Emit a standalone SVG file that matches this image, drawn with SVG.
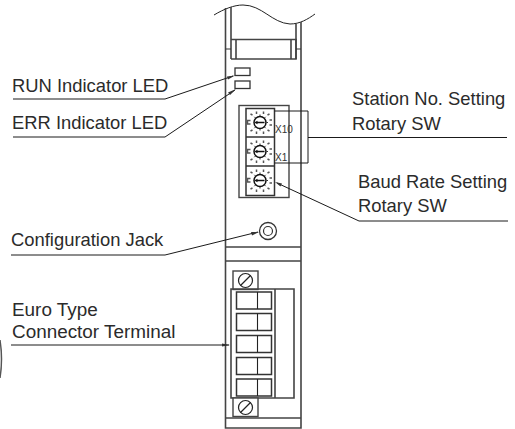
<svg xmlns="http://www.w3.org/2000/svg" width="515" height="429" viewBox="0 0 515 429">
<style>
.t{font-family:"Liberation Sans",Arial,sans-serif;font-size:18.400px;fill:#2b2b2b}
.e{font-size:18.900px}
.s{font-family:"Liberation Sans",Arial,sans-serif;font-size:10px;fill:#333}
.l{fill:none;stroke:#333;stroke-width:1.2}
.b{fill:none;stroke:#444;stroke-width:1.6}
.c{fill:none;stroke:#222;stroke-width:1}
.u{stroke:#1a1a1a;stroke-width:1;fill:none}
.a{fill:#333}
</style>
<defs>
<g id="dial">
<circle r="6" fill="none" stroke="#111" stroke-width="1.500"/>
<path d="M-4.500 0H4.500" stroke="#111" stroke-width="1.500"/>
<path d="M-5.500 0L-2.500 -1.800V1.800Z" fill="#111"/>
<g stroke="#333" stroke-width="1" fill="none">
<path d="M0 -6.500V-8M4.600 -4.600L5.700 -5.700M6.500 0H8M4.600 4.600L5.700 5.700M0 6.500V8M-4.600 4.600L-5.700 5.700M-4.600 -4.600L-5.700 -5.700"/>
</g>
<g stroke="#555" stroke-width="1.500" fill="none">
<path d="M-3.500 -11V-8.500M3.500 -11V-8.500M7.500 -7.500L9.500 -8.500M9.500 -2.500H12M9.500 2.500H12M7.500 7.500L9.500 8.500M3.500 9V11.500M-3.500 9V11.500M-7.500 7.500L-9.500 8.500M-9.500 -2H-12.500V1.500H-9.500M-7.500 -7.500L-9.500 -8.500"/>
</g>
</g>
<g id="screw">
<rect x="-12.500" y="-9.500" width="25" height="18.500" fill="#fff" stroke="#444" stroke-width="1.400"/>
<circle r="7" fill="none" stroke="#222" stroke-width="1.200"/>
<path d="M-5 5L5 -5" stroke="#222" stroke-width="1.200"/>
</g>
<g id="cell">
<rect x="0" y="0" width="35" height="17" fill="#fff" stroke="#333" stroke-width="1.500"/>
<path d="M21 0V17" stroke="#222" stroke-width="1.100"/>
</g>
</defs>

<g id="module-body">
<path class="c" d="M214 15C224 9 234 5 243 5C262 5 272 23 290 24C300 24 308 19 315 14"/>
<path class="b" d="M225.500 8V428H301V22M231 7V59M296 24V59"/>
<path class="b" d="M231 39.500H296V59H231M236 39.500V59M291 39.500V59"/>
<path class="l" d="M225.500 49H231M296 49H301"/>
<path class="b" d="M226 247H301M226 261H301M226 418H301"/>
</g>

<g id="run-led"><rect x="235" y="68" width="15" height="7.500" fill="#fff" stroke="#333" stroke-width="1.300"/></g>
<g id="err-led"><rect x="235" y="81" width="15" height="7.500" fill="#fff" stroke="#333" stroke-width="1.300"/></g>

<g id="switch-panel">
<rect x="239" y="105.500" width="50" height="92" fill="#fff" stroke="#444" stroke-width="1.400"/>
<rect x="246" y="108.500" width="28.500" height="87" fill="#fff" stroke="#333" stroke-width="1.500"/>
<path d="M246 137H274.500M246 166H274.500" stroke="#333" stroke-width="1.500"/>
<text class="s" x="275" y="132.500">X10</text>
<text class="s" x="275" y="161">X1</text>
</g>
<g id="station-switch-x10"><use href="#dial" x="260" y="122.500"/></g>
<g id="station-switch-x1"><use href="#dial" x="260" y="151.500"/></g>
<g id="baud-switch"><use href="#dial" x="260" y="180.500"/></g>

<g id="config-jack">
<circle cx="268" cy="231" r="8.500" fill="#fff" stroke="#333" stroke-width="1.300"/>
<circle cx="268" cy="231" r="4.500" fill="none" stroke="#333" stroke-width="1.200"/>
</g>

<g id="terminal">
<use href="#screw" x="245.500" y="280.500"/>
<path class="b" d="M231 289H294V398H231ZM275 289V398"/>
<use href="#cell" x="236.500" y="292"/>
<use href="#cell" x="236.500" y="313.500"/>
<use href="#cell" x="236.500" y="335.500"/>
<use href="#cell" x="236.500" y="357.500"/>
<use href="#cell" x="236.500" y="379"/>
<use href="#screw" x="245.500" y="407.500"/>
</g>

<g id="connectors">
<path class="u" d="M13 99H165L233 76M13 137H165L235 90M308 137.500H507M359 221H508M359 221L277 183M11 255H165L258 232M11 345H229M274.500 111H308V163H274.500"/>
<path class="a" d="M235 75.500L227 76.500L228 79.500ZM236 89L228 92.500L230 95ZM275 182L282 183.500L280.500 186.500ZM259 232L251 232L252 235.500ZM230 345L222 343.500V346.500Z"/>
</g>

<g id="labels">
<text class="t" x="12" y="92">RUN Indicator LED</text>
<text class="t" x="12" y="129">ERR Indicator LED</text>
<text class="t" x="352" y="105">Station No. Setting</text>
<text class="t" x="352" y="130">Rotary SW</text>
<text class="t" x="358" y="188">Baud Rate Setting</text>
<text class="t" x="358" y="212">Rotary SW</text>
<text class="t" x="11" y="246">Configuration Jack</text>
<text class="t e" x="12" y="316">Euro Type</text>
<text class="t e" x="12" y="338">Connector Terminal</text>
</g>

<path id="cut-arc" d="M0 340Q3 359 0 378" fill="none" stroke="#555" stroke-width="1.500"/>
</svg>
